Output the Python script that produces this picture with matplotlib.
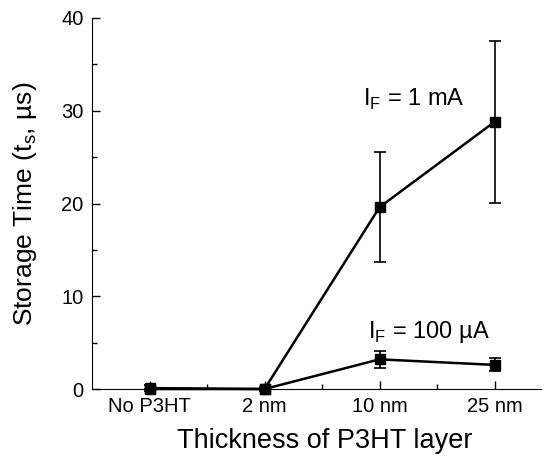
import matplotlib.pyplot as plt
from matplotlib.ticker import MultipleLocator, FixedLocator

plt.rcParams['font.family'] = ['Liberation Sans', 'DejaVu Sans']

# Datos
categories = ['No P3HT', '2 nm', '10 nm', '25 nm']
t_1mA = [0.0, 0.0, 19.6, 28.8]
err_1mA = [0.0, 0.0, 5.9, 8.7]
t_100uA = [0.1, 0.0, 3.2, 2.6]
err_100uA = [0.3, 0.2, 0.9, 0.7]

fig = plt.figure(figsize=(5.46, 4.72), dpi=100)
ax = fig.add_axes([0.1685, 0.1758, 0.8215, 0.7861])

x = list(range(len(categories)))

for y, e in [(t_1mA, err_1mA), (t_100uA, err_100uA)]:
    ax.errorbar(x, y, yerr=e, color='black', lw=1.8, marker='s', ms=6.5,
                elinewidth=1.2, capsize=4.5, capthick=1.2, clip_on=False, zorder=3)

ax.set_xlim(-0.5, 3.4)
ax.set_ylim(0, 40)
ax.set_xticks(x)
ax.set_xticklabels(categories)
ax.xaxis.set_minor_locator(FixedLocator([0.5, 1.5, 2.5]))
ax.yaxis.set_major_locator(MultipleLocator(10))
ax.yaxis.set_minor_locator(MultipleLocator(5))

ax.spines['top'].set_visible(False)
ax.spines['right'].set_visible(False)
ax.tick_params(which='both', direction='in', labelsize=14.5, width=1)
ax.tick_params(which='major', length=6, pad=6)
ax.tick_params(which='minor', length=3.5)

ax.set_xlabel('Thickness of P3HT layer', fontsize=19.5, labelpad=12)
ax.xaxis.set_label_coords(0.52, -0.105)
ax.set_ylabel('Storage Time (t$_\\mathregular{s}$, µs)', fontsize=19, labelpad=16)

ax.text(1.86, 31.2, 'I$_\\mathregular{F}$ = 1 mA', fontsize=17, va='center', ha='left')
ax.text(1.9, 6.2, 'I$_\\mathregular{F}$ = 100 µA', fontsize=17, va='center', ha='left')

plt.savefig('out.png', dpi=100)
